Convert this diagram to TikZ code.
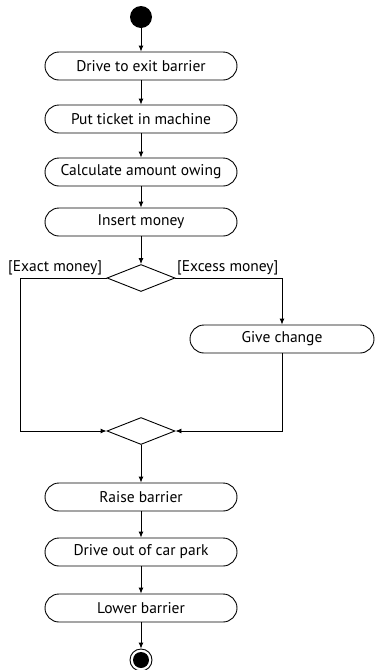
\documentclass[tikz,border=0pt]{standalone}
\usepackage{fontspec}
\setmainfont{PT Sans}
\usetikzlibrary{arrows.meta,shapes.geometric}
\begin{document}
\begin{tikzpicture}[x=1pt,y=-1pt,
  act/.style={draw,line width=0.9pt,rectangle,rounded corners=14pt,minimum width=192pt,minimum height=28pt,inner sep=0pt,font=\fontsize{15.5}{18}\selectfont},
  dec/.style={draw,line width=0.9pt,diamond,minimum width=68pt,minimum height=27pt,inner sep=0pt},
  flow/.style={line width=0.9pt,-{Latex[length=6pt,width=5pt]}},
  lbl/.style={font=\fontsize{15.5}{18}\selectfont,inner sep=0pt}]
\useasboundingbox (0,0) rectangle (375,670);
\node[circle,fill=black,minimum size=22pt,inner sep=0pt] (start) at (141,17) {};
\node[act] (a1) at (141,66) {Drive to exit barrier};
\node[act] (a2) at (141,119) {Put ticket in machine};
\node[act] (a3) at (141,172) {Calculate amount owing};
\node[act] (a4) at (141,222) {Insert money};
\node[dec] (d1) at (141,278) {};
\node[act,minimum width=184pt] (gc) at (282,339) {Give change};
\node[dec] (d2) at (141,431) {};
\node[act] (a5) at (141,497) {Raise barrier};
\node[act] (a6) at (141,552) {Drive out of car park};
\node[act] (a7) at (141,608) {Lower barrier};
\node[circle,draw,line width=0.9pt,minimum size=22pt,inner sep=0pt] (endo) at (141,660) {};
\node[circle,fill=black,minimum size=16pt,inner sep=0pt] (endi) at (141,660) {};
\node[lbl,anchor=west] (l1) at (8,268) {[Exact money]};
\node[lbl,anchor=west] (l2) at (177,268) {[Excess money]};
\coordinate (lc) at (20,278);
\draw[flow] (start) -- (a1);
\draw[flow] (a1) -- (a2);
\draw[flow] (a2) -- (a3);
\draw[flow] (a3) -- (a4);
\draw[flow] (a4) -- (d1);
\draw[flow] (d1.east) -| (gc.north);
\draw[flow] (d1.west) -- (lc) |- (d2.west);
\draw[flow] (gc.south) |- (d2.east);
\draw[flow] (d2) -- (a5);
\draw[flow] (a5) -- (a6);
\draw[flow] (a6) -- (a7);
\draw[flow] (a7) -- (endo);
\end{tikzpicture}
\end{document}
